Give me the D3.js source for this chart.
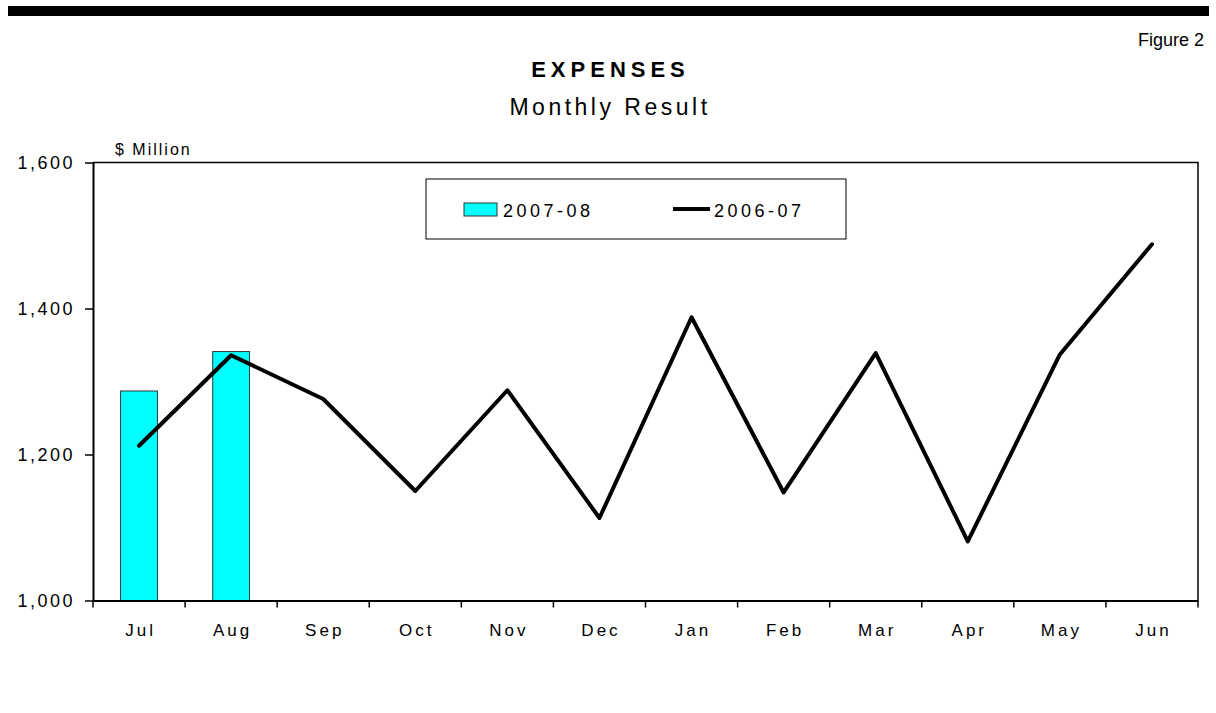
<!DOCTYPE html>
<html>
<head>
<meta charset="utf-8">
<title>Expenses - Monthly Result</title>
<script src="https://cdn.jsdelivr.net/npm/d3@7"></script>
<style>
	body { margin: 0; background: #ffffff; }
	svg text { font-family: "Liberation Sans", Arial, Helvetica, sans-serif; fill: #000000; }
</style>
</head>
<body>
<div id="chart"></div>
<script>
// months of the financial year (x axis categories)
var months = ["Jul", "Aug", "Sep", "Oct", "Nov", "Dec", "Jan", "Feb", "Mar", "Apr", "May", "Jun"];

// 2007-08 monthly expenses, $ million (only two months reported so far)
var expenses0708 = [1287, 1341];

// 2006-07 monthly expenses, $ million
var expenses0607 = [1212, 1336, 1276, 1150, 1288, 1113, 1388, 1148, 1339, 1081, 1337, 1488];

// y axis tick values
var yTicks = [1000, 1200, 1400, 1600];

// legend entries
var seriesNames = ["2007-08", "2006-07"];

var _opts = {
	el: "#chart",
	elWidth: 1216,
	elHeight: 713,
	plotLeft: 93,
	plotRight: 1198,
	plotTop: 162.5,
	plotBottom: 600.5,
	titleX: 608,        // centre of the title block
	barFill: "#00FFFF",
	barStroke: "#333333",
	barWidthRatio: 0.4,
	lineWidth: 4
};

function createSvg(container, width, height)
{
	var svg = container.append("svg");

	svg.attr("width", width);
	svg.attr("height", height);

	return svg;
}

function drawHeader(svg, options)
{
	// thick rule at the very top of the page
	svg.append("rect")
		.attr("x", 8)
		.attr("y", 6)
		.attr("width", 1201)
		.attr("height", 10)
		.attr("fill", "#000000");

	svg.append("text")
		.attr("x", 1204)
		.attr("y", 46)
		.attr("text-anchor", "end")
		.style("font-size", "18px")
		.text("Figure 2");

	var cx = options.titleX;

	svg.append("text")
		.attr("x", cx + 2.5)
		.attr("y", 77)
		.attr("text-anchor", "middle")
		.style("font-size", "22px")
		.style("font-weight", "bold")
		.style("letter-spacing", "5px")
		.text("EXPENSES");

	svg.append("text")
		.attr("x", cx + 2)
		.attr("y", 115)
		.attr("text-anchor", "middle")
		.style("font-size", "23px")
		.style("letter-spacing", "3.5px")
		.text("Monthly Result");

	svg.append("text")
		.attr("x", 115)
		.attr("y", 155)
		.style("font-size", "16px")
		.style("letter-spacing", "2px")
		.text("$ Million");
}

function drawPanel(svg, options)
{
	var x = d3.scaleBand()
		.domain(months)
		.range([options.plotLeft, options.plotRight])
		.padding(0);

	var y = d3.scaleLinear()
		.domain([1000, 1600])
		.range([options.plotBottom, options.plotTop]);

	// bars for the current year
	var barW = x.bandwidth() * options.barWidthRatio;

	svg.append("g")
		.selectAll("rect")
		.data(expenses0708)
		.enter()
		.append("rect")
		.attr("x", function(d, i) { return x(months[i]) + (x.bandwidth() - barW) / 2; })
		.attr("y", function(d) { return y(d); })
		.attr("width", barW)
		.attr("height", function(d) { return y(1000) - y(d); })
		.attr("fill", options.barFill)
		.attr("stroke", options.barStroke)
		.attr("stroke-width", 1);

	// line for the previous year
	var line = d3.line()
		.x(function(d, i) { return x(months[i]) + x.bandwidth() / 2; })
		.y(function(d) { return y(d); });

	svg.append("path")
		.datum(expenses0607)
		.attr("d", line)
		.attr("fill", "none")
		.attr("stroke", "#000000")
		.attr("stroke-width", options.lineWidth)
		.attr("stroke-linejoin", "round")
		.attr("stroke-linecap", "round");

	// frame: top and right edges
	svg.append("path")
		.attr("d", "M" + options.plotLeft + "," + options.plotTop +
		           "H" + options.plotRight + "V" + options.plotBottom)
		.attr("fill", "none")
		.attr("stroke", "#000000")
		.attr("stroke-width", 1.5);

	// y axis
	var yAxis = d3.axisLeft(y)
		.tickValues(yTicks)
		.tickFormat(d3.format(","))
		.tickSize(8)
		.tickSizeOuter(0)
		.tickPadding(13);

	var gy = svg.append("g")
		.attr("transform", "translate(" + options.plotLeft + ",0)")
		.call(yAxis);

	gy.select(".domain").attr("stroke-width", 2);
	gy.selectAll(".tick line").attr("stroke-width", 1.5);
	gy.selectAll(".tick text")
		.attr("dx", 3)
		.style("font-size", "18px")
		.style("letter-spacing", "2.5px")
		.style("font-family", "\"Liberation Sans\", Arial, sans-serif");

	// x axis, labels centred in each band
	var xAxis = d3.axisBottom(x)
		.tickSize(0)
		.tickSizeOuter(0)
		.tickPadding(0);

	var gx = svg.append("g")
		.attr("transform", "translate(0," + options.plotBottom + ")")
		.call(xAxis);

	gx.select(".domain").attr("stroke-width", 2);
	gx.selectAll(".tick text")
		.attr("y", 35)
		.attr("dy", 0)
		.attr("dx", 1.5)
		.style("font-size", "17px")
		.style("letter-spacing", "3px")
		.style("font-family", "\"Liberation Sans\", Arial, sans-serif");

	// tick marks sit on the category boundaries
	var bounds = months.map(function(m) { return x(m); }).concat([options.plotRight]);

	gx.selectAll(".bound")
		.data(bounds)
		.enter()
		.append("line")
		.attr("class", "bound")
		.attr("x1", function(d) { return d; })
		.attr("x2", function(d) { return d; })
		.attr("y1", 0)
		.attr("y2", 7)
		.attr("stroke", "#000000")
		.attr("stroke-width", 1.5);
}

function drawLegend(svg, options)
{
	var g = svg.append("g").attr("transform", "translate(426,179)");

	g.append("rect")
		.attr("x", 0)
		.attr("y", 0)
		.attr("width", 420)
		.attr("height", 60)
		.attr("fill", "#ffffff")
		.attr("stroke", "#000000")
		.attr("stroke-width", 1);

	g.append("rect")
		.attr("x", 38)
		.attr("y", 24)
		.attr("width", 33)
		.attr("height", 13)
		.attr("fill", options.barFill)
		.attr("stroke", options.barStroke)
		.attr("stroke-width", 1);

	g.append("text")
		.attr("x", 77)
		.attr("y", 38)
		.style("font-size", "18px")
		.style("letter-spacing", "3.5px")
		.text(seriesNames[0]);

	g.append("line")
		.attr("x1", 247)
		.attr("x2", 284)
		.attr("y1", 30)
		.attr("y2", 30)
		.attr("stroke", "#000000")
		.attr("stroke-width", options.lineWidth);

	g.append("text")
		.attr("x", 288)
		.attr("y", 38)
		.style("font-size", "18px")
		.style("letter-spacing", "3.5px")
		.text(seriesNames[1]);
}

function init()
{
	var container = d3.select(_opts.el);
	var svg = createSvg(container, _opts.elWidth, _opts.elHeight);

	drawHeader(svg, _opts);
	drawPanel(svg, _opts);
	drawLegend(svg, _opts);
}

init();
</script>
</body>
</html>
